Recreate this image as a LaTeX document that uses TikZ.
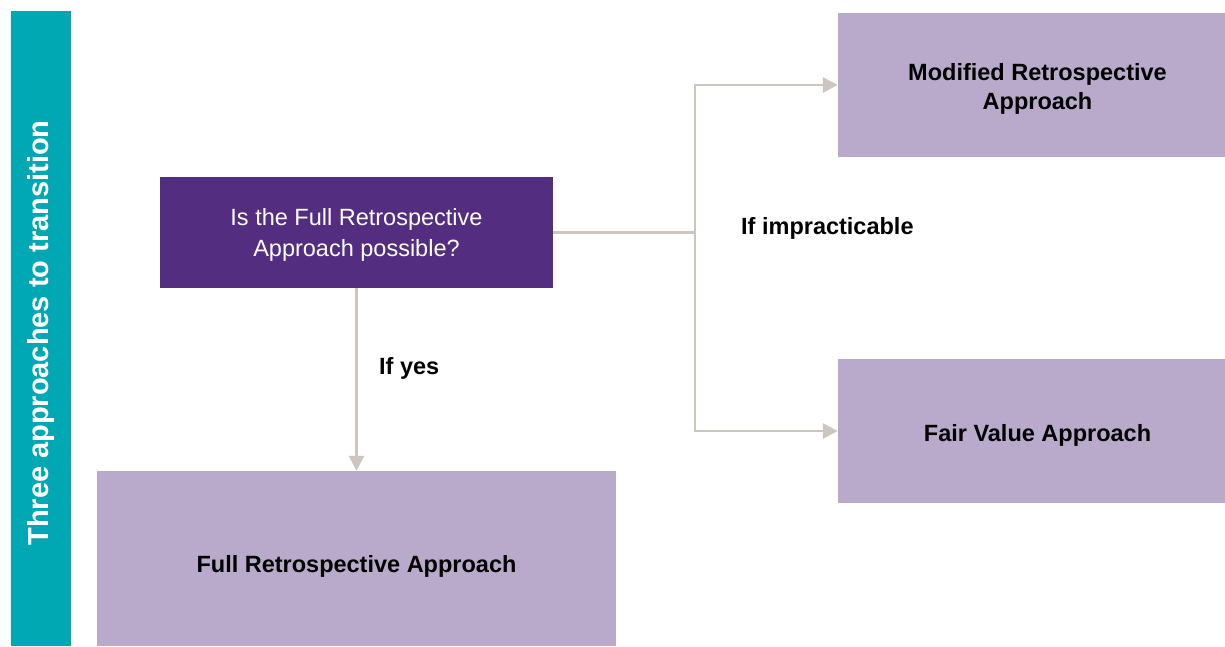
\documentclass[tikz,border=0pt]{standalone}
\usepackage{fontspec}
\setmainfont{Liberation Sans}
\usetikzlibrary{arrows.meta}
\definecolor{tealbar}{RGB}{0,168,180}
\definecolor{deep}{RGB}{82,45,128}
\definecolor{lilac}{RGB}{185,169,203}
\definecolor{conn}{RGB}{204,198,190}
\tikzset{
  box/.style={fill=lilac, draw=none, inner sep=0pt},
  boxtext/.style={font=\fontsize{23.5}{29}\selectfont\bfseries, align=center, inner sep=0pt},
  conline/.style={draw=conn, line width=2.6pt},
  conarrow/.style={conline, -{Triangle[length=15pt,width=15pt]}},
  lbl/.style={font=\fontsize{23.5}{29}\selectfont\bfseries, anchor=west, inner sep=0pt}
}
\begin{document}
\begin{tikzpicture}[x=1pt,y=-1pt]
\useasboundingbox (0,0) rectangle (1225,646);
\fill[tealbar] (11,11) rectangle (71,646);
\node[rotate=90, text=white, font=\fontsize{29}{34}\selectfont\bfseries] (title) at (41.5,333) {Three approaches to transition};
\node[fill=deep, inner sep=0pt, minimum width=393pt, minimum height=111pt,
  label={[boxtext, font=\fontsize{23.5}{31}\selectfont, text=white, yshift=-2pt]center:Is the Full Retrospective\\Approach possible?}] (q) at (356.5,232.5) {};
\node[box, minimum width=519pt, minimum height=175pt,
  label={[boxtext, yshift=-8pt]center:Full Retrospective Approach}] (full) at (356.5,558.5) {};
\node[box, minimum width=399pt, minimum height=144pt,
  label={[boxtext, yshift=-4pt]center:Modified Retrospective\\Approach}] (mod) at (1037.5,85) {};
\node[box, minimum width=399pt, minimum height=144pt,
  label={[boxtext, yshift=-4pt]center:Fair Value Approach}] (fair) at (1037.5,431) {};
\coordinate (j) at (695,232.5);
\coordinate (jt) at (695,85);
\coordinate (jb) at (695,431);
\draw[conline] (q.east) -- (j);
\draw[conarrow] (j) -- (jt) -- (mod.west);
\draw[conarrow] (j) -- (jb) -- (fair.west);
\draw[conarrow] (q.south) -- (full.north);
\node[lbl] (ly) at (379,368) {If yes};
\node[lbl] (li) at (741,228) {If impracticable};
\end{tikzpicture}
\end{document}
